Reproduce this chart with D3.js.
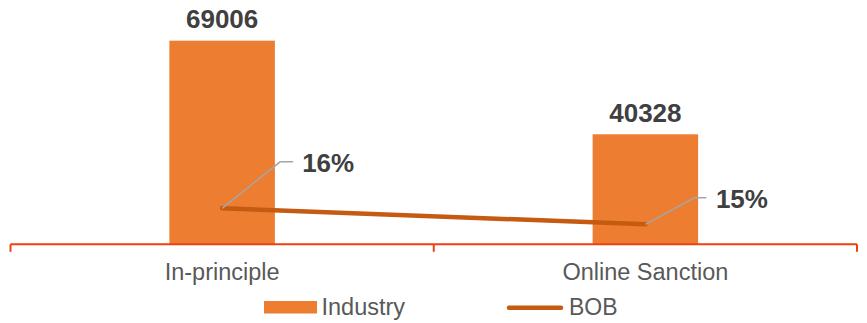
<!DOCTYPE html>
<html>
<head>
<meta charset="utf-8">
<script src="https://cdn.jsdelivr.net/npm/d3@7"></script>
<style>
  html, body { margin: 0; padding: 0; background: #fff; }
  svg { display: block; font-family: "Liberation Sans", Arial, sans-serif; }
</style>
</head>
<body>
<svg id="chart" width="867" height="323"></svg>
<script>
const categories = ["In-principle", "Online Sanction"];
const industryValues = [69006, 40328];
const bobValues = [16, 15];
const seriesNames = ["Industry", "BOB"];

const svg = d3.select("#chart");
const axisY = 244.3;
const left = 10.5, right = 857;

const x = d3.scaleBand().domain(categories).range([left, right]).paddingInner(0).paddingOuter(0);
const y = d3.scaleLinear().domain([6628, 80000]).range([axisY, 4.8]);
const y2 = d3.scaleLinear().domain([13.75, 28.75]).range([axisY, 4.3]);

const barW = 105.5;
const cx = d => x(d) + x.bandwidth() / 2;

// bars
svg.selectAll("rect.bar").data(categories).enter().append("rect")
  .attr("class", "bar")
  .attr("x", d => cx(d) - barW / 2)
  .attr("width", barW)
  .attr("y", (d, i) => y(industryValues[i]))
  .attr("height", (d, i) => axisY - y(industryValues[i]))
  .attr("fill", "#ED7D31");

// bar labels
svg.selectAll("text.barlab").data(categories).enter().append("text")
  .attr("x", d => cx(d))
  .attr("y", (d, i) => y(industryValues[i]) - 12.5)
  .attr("text-anchor", "middle")
  .attr("font-size", 26)
  .attr("font-weight", "bold")
  .attr("fill", "#404040")
  .text((d, i) => industryValues[i]);

// x axis
const axis = svg.append("g").attr("transform", `translate(0,${axisY})`)
  .call(d3.axisBottom(x).tickSize(0).tickFormat(""));
axis.select(".domain").remove();
axis.append("line").attr("x1", left).attr("x2", right).attr("y1", 0).attr("y2", 0)
  .attr("stroke", "#F04010").attr("stroke-width", 2);
const tickXs = [left, (left + right) / 2, right];
axis.selectAll("line.tk").data(tickXs).enter().append("line")
  .attr("x1", d => d).attr("x2", d => d).attr("y1", 0).attr("y2", 7.5)
  .attr("stroke", "#F04010").attr("stroke-width", 2);

// category labels
svg.selectAll("text.cat").data(categories).enter().append("text")
  .attr("x", d => cx(d))
  .attr("y", 280)
  .attr("text-anchor", "middle")
  .attr("font-size", 23.5)
  .attr("fill", "#595959")
  .text(d => d);

// BOB line
const line = d3.line().x((d, i) => cx(categories[i])).y(d => y2(d));
svg.append("path").datum(bobValues)
  .attr("d", line)
  .attr("fill", "none")
  .attr("stroke", "#C55A11")
  .attr("stroke-width", 4.5)
  .attr("stroke-linecap", "round");

// leader lines & labels
const labelOffsets = [{dx: 58, dy: -46.5, hx: 13, tx: 80, ty: 172}, {dx: 49, dy: -26.5, hx: 12, tx: 70.5, ty: 208}];
bobValues.forEach((v, i) => {
  const px = cx(categories[i]), py = y2(v);
  const o = labelOffsets[i];
  svg.append("polyline")
    .attr("points", `${px},${py} ${px + o.dx},${py + o.dy} ${px + o.dx + o.hx},${py + o.dy}`)
    .attr("fill", "none").attr("stroke", "#A6A6A6").attr("stroke-width", 1.5);
  svg.append("text")
    .attr("x", px + o.tx)
    .attr("y", o.ty)
    .attr("font-size", 26)
    .attr("font-weight", "bold")
    .attr("fill", "#404040")
    .text(v + "%");
});

// legend
const lg = svg.append("g");
lg.append("rect").attr("x", 264).attr("y", 301).attr("width", 53).attr("height", 12.5).attr("fill", "#ED7D31");
lg.append("text").attr("x", 321.5).attr("y", 314.5).attr("font-size", 23.5).attr("fill", "#595959").text(seriesNames[0]);
lg.append("line").attr("x1", 509).attr("x2", 561).attr("y1", 307.7).attr("y2", 307.7)
  .attr("stroke", "#C55A11").attr("stroke-width", 4.5).attr("stroke-linecap", "round");
lg.append("text").attr("x", 569).attr("y", 314.5).attr("font-size", 23).attr("fill", "#595959").text(seriesNames[1]);
</script>
</body>
</html>
